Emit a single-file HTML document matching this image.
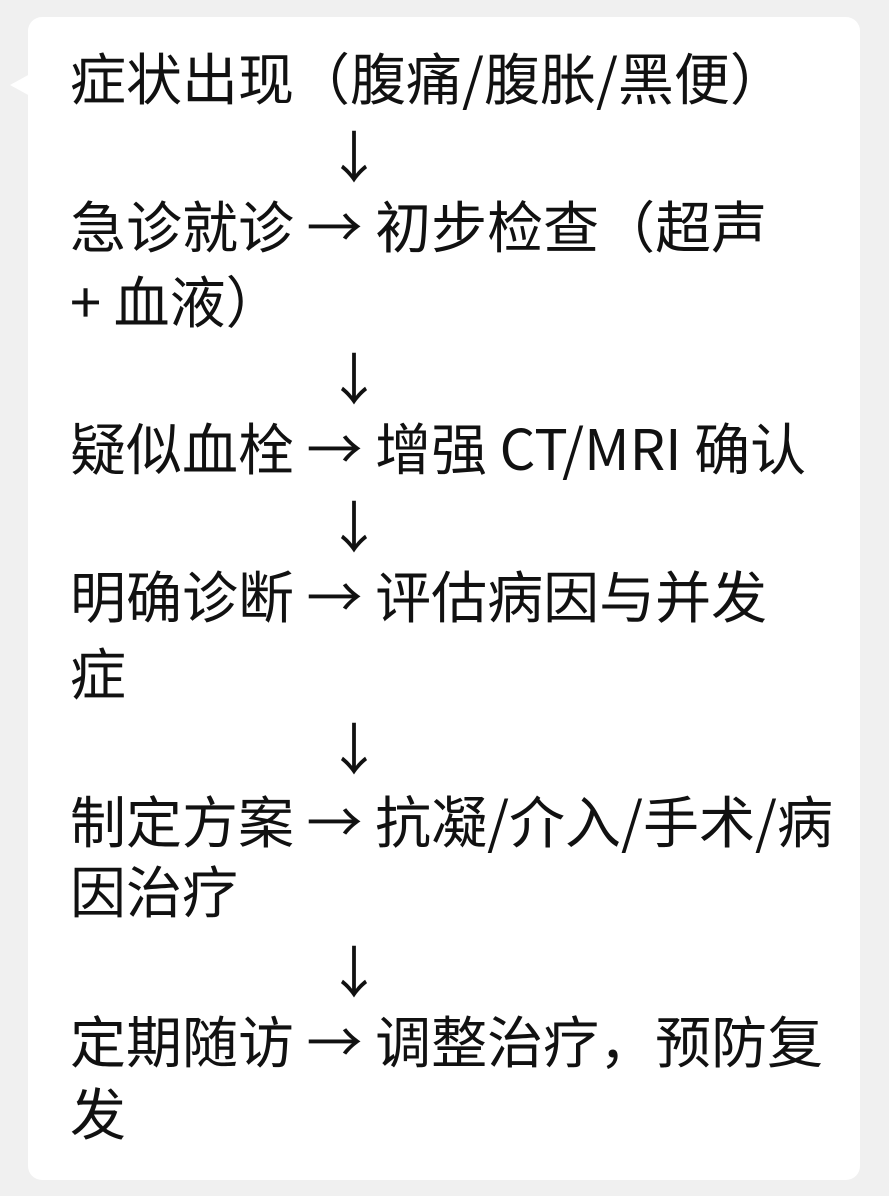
<!DOCTYPE html>
<html><head><meta charset="utf-8"><style>
html,body{margin:0;padding:0;}
body{width:889px;height:1196px;background:#f0f0f0;position:relative;overflow:hidden;font-family:"Noto Sans CJK SC","Liberation Sans",sans-serif;color:#111;}
.b{position:absolute;left:28px;top:17px;width:832px;height:1163px;background:#fff;border-radius:14px;}
.t{position:absolute;left:10px;top:74px;width:0;height:0;border-top:11px solid transparent;border-bottom:11px solid transparent;border-right:20px solid #fff;}
.l{position:absolute;left:70px;font-size:56px;line-height:74px;height:74px;white-space:nowrap;}
.a{left:326px;}
</style></head><body>
<div class="b"></div><div class="t"></div>
<div class="l" style="top:40px">症状出现（腹痛/腹胀/黑便）</div>
<div class="l a" style="top:118px">↓</div>
<div class="l" style="top:188px">急诊就诊 → 初步检查（超声</div>
<div class="l" style="top:263px">+ 血液）</div>
<div class="l a" style="top:340px">↓</div>
<div class="l" style="top:410px">疑似血栓 → 增强 CT/MRI 确认</div>
<div class="l a" style="top:488px">↓</div>
<div class="l" style="top:558px">明确诊断 → 评估病因与并发</div>
<div class="l" style="top:635px">症</div>
<div class="l a" style="top:710px">↓</div>
<div class="l" style="top:783px">制定方案 → 抗凝/介入/手术/病</div>
<div class="l" style="top:853px">因治疗</div>
<div class="l a" style="top:933px">↓</div>
<div class="l" style="top:1003px">定期随访 → 调整治疗，预防复</div>
<div class="l" style="top:1075px">发</div>
</body></html>
